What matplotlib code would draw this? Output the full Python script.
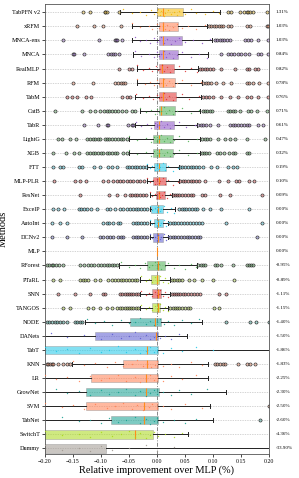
import matplotlib
matplotlib.use("Agg")
import matplotlib.pyplot as plt
from matplotlib.colors import to_rgba

plt.rcParams['font.family'] = ['Liberation Serif', 'DejaVu Serif']

methods = ["TabPFN v2", "xRFM", "MNCA-ens", "MNCA", "RealMLP", "RFM", "TabM", "CatB",
           "TabR", "LightG", "XGB", "FTT", "MLP-PLR", "ResNet", "ExcelP", "AutoInt",
           "DCNv2", "MLP", "RForest", "PTaRL", "SNN", "TANGOS", "NODE", "DANets",
           "TabT", "KNN", "LR", "GrowNet", "SVM", "TabNet", "SwitchT", "Dummy"]

mean_labels = ["1.31%", "1.03%", "1.03%", "0.84%", "0.82%", "0.78%", "0.76%", "0.71%",
               "0.61%", "0.47%", "0.32%", "0.19%", "0.10%", "0.09%", "0.00%", "0.00%",
               "0.00%", "0.00%", "-0.95%", "-0.89%", "-1.11%", "-1.15%", "-1.40%", "-1.50%",
               "-1.86%", "-1.83%", "-2.25%", "-2.30%", "-2.50%", "-2.60%", "-4.36%", "-33.90%"]

q1 = [0.000, 0.003, 0.003, 0.003, 0.003, 0.003, 0.003, 0.003,
      -0.005, -0.007, -0.007, -0.005, -0.007, -0.002, -0.010, -0.005,
      -0.007, 0.000, -0.018, -0.010, -0.009, -0.009, -0.048, -0.111,
      -0.300, -0.060, -0.117, -0.126, -0.126, -0.082, -0.300, -0.400]
med = [0.010, 0.010, 0.010, 0.010, 0.009, 0.011, 0.011, 0.008,
       0.004, 0.004, 0.004, 0.004, 0.004, 0.004, 0.001, 0.002,
       0.002, 0.000, 0.001, 0.000, 0.001, 0.001, -0.004, -0.002,
       -0.018, -0.018, -0.020, -0.020, -0.023, -0.024, -0.040, -0.300]
q3 = [0.047, 0.038, 0.044, 0.038, 0.031, 0.032, 0.034, 0.032,
      0.030, 0.029, 0.029, 0.016, 0.017, 0.014, 0.010, 0.010,
      0.010, 0.000, 0.014, 0.004, 0.008, 0.005, 0.008, 0.002,
      0.002, 0.002, 0.002, 0.004, 0.002, 0.002, -0.007, -0.091]
whislo = [-0.066, -0.045, -0.045, -0.042, -0.035, -0.035, -0.039, -0.030,
          -0.039, -0.050, -0.050, -0.018, -0.018, -0.013, -0.012, -0.012,
          -0.012, 0.000, -0.068, -0.030, -0.030, -0.030, -0.129, -0.300,
          -0.500, -0.152, -0.400, -0.400, -0.400, -0.400, -0.500, -0.600]
whishi = [0.112, 0.090, 0.098, 0.092, 0.074, 0.080, 0.078, 0.077,
          0.071, 0.076, 0.076, 0.040, 0.040, 0.026, 0.032, 0.020,
          0.020, 0.000, 0.071, 0.023, 0.023, 0.020, 0.080, 0.054,
          0.300, 0.092, 0.092, 0.123, 0.095, 0.100, 0.055, 0.300]

fliers = [
    [-0.133, -0.12, -0.093, -0.092, -0.09, -0.068, 0.126, 0.133, 0.148, 0.156, 0.160, 0.163, 0.166, 0.171, 0.196],
    [-0.143, -0.112, -0.096, -0.064, 0.093, 0.097, 0.101, 0.105, 0.11, 0.114, 0.118, 0.127, 0.132, 0.16, 0.166, 0.196, 0.199],
    [-0.168, -0.104, -0.075, -0.073, -0.071, -0.062, 0.104, 0.108, 0.112, 0.116, 0.12, 0.125, 0.13, 0.157, 0.162, 0.168, 0.18, 0.199],
    [-0.15, -0.148, -0.13, -0.088, -0.082, -0.078, -0.075, -0.067, 0.115, 0.127, 0.132, 0.138, 0.145, 0.15, 0.157, 0.165, 0.18, 0.185, 0.198],
    [-0.068, -0.05, -0.044, 0.077, 0.08, 0.085, 0.09, 0.095, 0.1, 0.114, 0.14, 0.16, 0.165, 0.175, 0.18],
    [-0.15, -0.114, -0.075, -0.07, -0.065, -0.06, -0.057, 0.083, 0.088, 0.092, 0.097, 0.105, 0.118, 0.132, 0.16, 0.165, 0.172, 0.183, 0.198],
    [-0.161, -0.152, -0.142, -0.126, -0.117, -0.063, -0.054, -0.048, 0.082, 0.088, 0.093, 0.1, 0.115, 0.13, 0.145, 0.16, 0.168, 0.18, 0.198],
    [-0.182, -0.134, -0.12, -0.11, -0.102, -0.095, -0.09, -0.085, -0.08, -0.075, -0.07, -0.063, -0.055, -0.045, -0.04,
     0.082, 0.086, 0.09, 0.095, 0.098, 0.126, 0.13, 0.135, 0.14, 0.148, 0.162, 0.168, 0.178, 0.196],
    [-0.131, -0.105, -0.09, -0.088, -0.052, -0.045, -0.043, 0.074, 0.078, 0.082, 0.088, 0.094, 0.109,
     0.13, 0.135, 0.14, 0.145, 0.15, 0.155, 0.16, 0.165, 0.18, 0.19],
    [-0.176, -0.17, -0.155, -0.145, -0.125, -0.12, -0.115, -0.11, -0.105, -0.102, -0.093, -0.09, -0.085,
     -0.08, -0.075, -0.07, -0.065, -0.06, -0.054, 0.08, 0.085, 0.09, 0.095, 0.109, 0.121, 0.13, 0.139, 0.16, 0.193],
    [-0.186, -0.162, -0.148, -0.139, -0.125, -0.12, -0.115, -0.11, -0.105, -0.1, -0.097, -0.09, -0.085, -0.08,
     -0.075, -0.072, -0.06, -0.054, 0.08, 0.084, 0.088, 0.093, 0.107, 0.113, 0.12, 0.128, 0.135, 0.139, 0.16, 0.165],
    [-0.185, -0.173, -0.168, -0.139, -0.134, -0.112, -0.102, -0.087, -0.081, -0.072, -0.054, -0.05, -0.045, -0.04,
     -0.035, -0.03, -0.025, -0.02, 0.042, 0.045, 0.05, 0.055, 0.06, 0.065, 0.07, 0.075, 0.083, 0.096, 0.107, 0.127, 0.135, 0.143],
    [-0.184, -0.146, -0.137, -0.126, -0.096, -0.087, -0.078, -0.072, -0.066, -0.06, -0.054, -0.048, -0.042, -0.036,
     -0.03, -0.024, 0.042, 0.046, 0.05, 0.055, 0.06, 0.065, 0.07, 0.075, 0.085, 0.111, 0.126, 0.142, 0.147, 0.165, 0.173],
    [-0.137, -0.085, -0.072, -0.058, -0.048, -0.044, -0.04, -0.035, -0.03, -0.025, -0.02, 0.029, 0.032, 0.036,
     0.04, 0.045, 0.05, 0.055, 0.06, 0.064, 0.08, 0.086, 0.112, 0.13, 0.187],
    [-0.185, -0.176, -0.166, -0.14, -0.135, -0.13, -0.125, -0.117, -0.108, -0.09, -0.084, -0.075, -0.066, -0.06,
     -0.054, -0.048, -0.043, -0.038, -0.033, -0.028, -0.023, -0.018, 0.04, 0.044, 0.048, 0.052, 0.058, 0.063,
     0.068, 0.071, 0.083, 0.095, 0.114, 0.164],
    [-0.188, -0.173, -0.161, -0.097, -0.09, -0.085, -0.078, -0.07, -0.066, -0.043, -0.038, -0.033, -0.028, -0.023,
     -0.018, 0.023, 0.028, 0.033, 0.038, 0.043, 0.048, 0.053, 0.059, 0.065, 0.07, 0.075, 0.08, 0.124, 0.187],
    [-0.188, -0.161, -0.134, -0.102, -0.097, -0.09, -0.084, -0.078, -0.07, -0.065, -0.06, -0.043, -0.038, -0.033,
     -0.028, -0.023, -0.018, 0.023, 0.028, 0.033, 0.038, 0.043, 0.048, 0.053, 0.058, 0.063, 0.068, 0.073, 0.077, 0.178],
    [],
    [-0.197, -0.193, -0.188, -0.185, -0.18, -0.175, -0.167, -0.137, -0.13, -0.124, -0.118, -0.112, -0.105, -0.1,
     -0.095, -0.09, -0.085, -0.08, -0.076, -0.072, 0.074, 0.078, 0.082, 0.086, 0.104, 0.108, 0.115, 0.135, 0.16, 0.164, 0.168, 0.172],
    [-0.185, -0.173, -0.137, -0.133, -0.128, -0.123, -0.11, -0.102, -0.087, -0.081, -0.075, -0.07, -0.065, -0.06,
     -0.055, -0.05, -0.045, -0.04, -0.035, 0.026, 0.03, 0.035, 0.04, 0.044, 0.058, 0.067, 0.08, 0.1, 0.138],
    [-0.176, -0.146, -0.12, -0.096, -0.093, -0.066, -0.062, -0.058, -0.054, -0.05, -0.046, -0.042, -0.038, -0.034,
     0.026, 0.03, 0.034, 0.038, 0.042, 0.046, 0.05, 0.055, 0.06, 0.067, 0.072, 0.077, 0.11, 0.123],
    [-0.167, -0.155, -0.123, -0.114, -0.102, -0.09, -0.081, -0.072, -0.066, -0.062, -0.058, -0.054, -0.05, -0.046,
     -0.042, -0.038, -0.034, 0.024, 0.028, 0.032, 0.036, 0.04, 0.045, 0.05, 0.055, 0.059, 0.102, 0.11],
    [-0.197, -0.193, -0.188, -0.183, -0.178, -0.173, -0.167, -0.161, -0.146, -0.142, -0.137, -0.134, 0.123, 0.166, 0.177, 0.2],
    [],
    [],
    [-0.197, -0.194, -0.191, -0.188, -0.185, -0.176, -0.167, -0.161, -0.155, 0.104, 0.108, 0.112, 0.118, 0.121, 0.145, 0.16, 0.166, 0.175],
    [],
    [],
    [0.2],
    [0.184],
    [],
    [],
]

strip = [
    [-0.06, -0.045, -0.03, -0.02, -0.01, -0.005, 0.0, 0.002, 0.005, 0.008, 0.012, 0.015, 0.02, 0.025, 0.03, 0.035, 0.04, 0.05, 0.06, 0.07, 0.085, 0.1, 0.11],
    [-0.045, -0.03, -0.015, -0.008, 0.0, 0.003, 0.006, 0.01, 0.014, 0.018, 0.022, 0.028, 0.035, 0.045, 0.055, 0.07, 0.085],
    [-0.04, -0.03, -0.02, -0.012, -0.005, 0.0, 0.004, 0.008, 0.012, 0.018, 0.025, 0.032, 0.04, 0.05, 0.065, 0.08, 0.095],
    [-0.04, -0.028, -0.015, -0.006, 0.0, 0.004, 0.008, 0.012, 0.016, 0.022, 0.028, 0.035, 0.045, 0.06, 0.075, 0.09],
    [-0.035, -0.025, -0.015, -0.008, -0.002, 0.002, 0.005, 0.009, 0.013, 0.018, 0.024, 0.03, 0.04, 0.05, 0.06, 0.072],
    [-0.035, -0.022, -0.012, -0.005, 0.0, 0.004, 0.008, 0.012, 0.017, 0.022, 0.028, 0.035, 0.045, 0.06, 0.078],
    [-0.038, -0.025, -0.015, -0.007, 0.0, 0.004, 0.008, 0.012, 0.016, 0.022, 0.028, 0.034, 0.045, 0.058, 0.075],
    [-0.03, -0.02, -0.01, -0.004, 0.0, 0.004, 0.008, 0.012, 0.016, 0.022, 0.028, 0.035, 0.045, 0.06, 0.075],
    [-0.038, -0.028, -0.018, -0.01, -0.004, 0.0, 0.004, 0.008, 0.013, 0.018, 0.024, 0.03, 0.04, 0.052, 0.068],
    [-0.05, -0.035, -0.02, -0.01, -0.005, 0.0, 0.004, 0.008, 0.013, 0.018, 0.024, 0.03, 0.04, 0.055, 0.072],
    [-0.05, -0.035, -0.02, -0.01, -0.005, 0.0, 0.004, 0.008, 0.013, 0.018, 0.024, 0.03, 0.04, 0.055, 0.072],
    [-0.018, -0.012, -0.008, -0.004, 0.0, 0.003, 0.006, 0.01, 0.014, 0.02, 0.028, 0.038],
    [-0.018, -0.012, -0.007, -0.003, 0.0, 0.003, 0.006, 0.01, 0.014, 0.02, 0.028, 0.038],
    [-0.013, -0.008, -0.004, 0.0, 0.003, 0.006, 0.009, 0.013, 0.018, 0.024],
    [-0.012, -0.008, -0.004, 0.0, 0.002, 0.005, 0.008, 0.012, 0.018, 0.025, 0.03],
    [-0.012, -0.008, -0.004, 0.0, 0.002, 0.005, 0.008, 0.012, 0.016, 0.02],
    [-0.012, -0.008, -0.004, 0.0, 0.002, 0.005, 0.008, 0.012, 0.016, 0.02],
    [],
    [-0.065, -0.05, -0.04, -0.03, -0.022, -0.015, -0.008, -0.003, 0.0, 0.004, 0.008, 0.014, 0.02, 0.03, 0.04, 0.05, 0.06, 0.07],
    [-0.028, -0.02, -0.014, -0.008, -0.004, 0.0, 0.003, 0.006, 0.01, 0.015, 0.02],
    [-0.028, -0.02, -0.014, -0.008, -0.004, 0.0, 0.003, 0.006, 0.01, 0.015, 0.02],
    [-0.028, -0.02, -0.014, -0.008, -0.004, 0.0, 0.003, 0.006, 0.01, 0.015, 0.02],
    [-0.125, -0.11, -0.095, -0.08, -0.065, -0.05, -0.04, -0.03, -0.02, -0.012, -0.006, 0.0, 0.005, 0.012, 0.02, 0.03, 0.045, 0.06, 0.075],
    [-0.19, -0.16, -0.13, -0.1, -0.08, -0.065, -0.05, -0.04, -0.03, -0.02, -0.012, -0.006, 0.0, 0.006, 0.015, 0.025, 0.04],
    [-0.2, -0.18, -0.16, -0.14, -0.12, -0.1, -0.085, -0.07, -0.055, -0.04, -0.03, -0.02, -0.012, -0.005, 0.0, 0.01, 0.025, 0.045, 0.07, 0.1],
    [-0.15, -0.13, -0.11, -0.09, -0.075, -0.06, -0.045, -0.035, -0.025, -0.018, -0.01, -0.004, 0.0, 0.01, 0.025, 0.04, 0.06, 0.08],
    [-0.2, -0.18, -0.16, -0.14, -0.12, -0.1, -0.085, -0.07, -0.055, -0.04, -0.03, -0.02, -0.012, -0.005, 0.0, 0.01, 0.025, 0.045, 0.07],
    [-0.18, -0.16, -0.14, -0.12, -0.1, -0.085, -0.07, -0.055, -0.04, -0.03, -0.02, -0.012, -0.005, 0.0, 0.01, 0.025, 0.04, 0.06, 0.09],
    [-0.2, -0.17, -0.15, -0.13, -0.11, -0.09, -0.075, -0.06, -0.045, -0.035, -0.025, -0.015, -0.008, 0.0, 0.01, 0.025, 0.05, 0.08],
    [-0.17, -0.14, -0.12, -0.1, -0.085, -0.07, -0.055, -0.04, -0.03, -0.02, -0.012, -0.005, 0.0, 0.01, 0.03, 0.05, 0.07],
    [-0.2, -0.17, -0.14, -0.12, -0.1, -0.08, -0.065, -0.05, -0.04, -0.03, -0.02, -0.012, -0.005, 0.002, 0.015, 0.03, 0.045],
    [-0.2, -0.17, -0.14, -0.12, -0.1, -0.08, -0.05, -0.02, 0.0, 0.03],
]

colors = ["#f5b800", "#ff7f50", "#8a4fc6", "#8a4fc6", "#e03030", "#ff7f50", "#e03030", "#4caf50",
          "#8a4fc6", "#4caf50", "#4caf50", "#1ec8e8", "#e03030", "#e03030", "#1ec8e8", "#1ec8e8",
          "#5a5ad0", "#ff7f0e", "#4caf50", "#a8d818", "#e03030", "#a8d818", "#13a090", "#5a5ad0",
          "#1ec8e8", "#ff7f50", "#ff7f50", "#13a090", "#ff7f50", "#13a090", "#a8d818", "#a09890"]

jitter = [-0.22, 0.08, -0.05, 0.2, -0.15, 0.12, 0.0, -0.25, 0.18, -0.08, 0.25, 0.05,
          -0.18, 0.15, -0.02, 0.22, -0.12, 0.1, -0.2, 0.02, 0.16, -0.1, 0.07, -0.24, 0.24]

fig = plt.figure(figsize=(2.99, 4.78), dpi=100)
ax = fig.add_axes([0.1505, 0.0502, 0.749, 0.9404])

n = len(methods)
pos = list(range(n))

for i in pos:
    ax.axhline(i, color="#c4c4c4", lw=0.5, ls=(0, (2, 1.5)), zorder=0)

stats = []
for i in pos:
    stats.append(dict(q1=q1[i], med=med[i], q3=q3[i], whislo=whislo[i],
                      whishi=whishi[i], fliers=fliers[i]))

bp = ax.bxp(stats, positions=pos, orientation='horizontal', widths=0.6,
            patch_artist=True, showfliers=True,
            boxprops=dict(edgecolor="#999999", lw=0.6),
            medianprops=dict(color="#ff8c1a", lw=0.8),
            whiskerprops=dict(color="#222222", lw=0.7),
            capprops=dict(color="#222222", lw=0.7),
            flierprops=dict(marker='o', markersize=2.2, markeredgecolor="#333333",
                            markeredgewidth=0.5))
for i, patch in enumerate(bp['boxes']):
    patch.set_facecolor(colors[i])
    patch.set_alpha(0.55)
    patch.set_zorder(2)
for i, fl in enumerate(bp['fliers']):
    fl.set_markerfacecolor(to_rgba(colors[i], 0.35))

for i in pos:
    xs = strip[i]
    ys = [i + jitter[j % len(jitter)] for j in range(len(xs))]
    ax.scatter(xs, ys, s=1.0, color=colors[i], alpha=0.85, lw=0, zorder=3)

ax.axvline(0, color="#888888", lw=0.7, ls=(0, (4, 1.5, 1, 1.5)), zorder=1)

ax.set_xlim(-0.2, 0.2)
ax.set_ylim(n - 0.6, -0.55)
ax.set_yticks(pos)
ax.set_yticklabels(methods, fontsize=4.4)
ax.set_xticks([-0.2, -0.15, -0.1, -0.05, 0.0, 0.05, 0.1, 0.15, 0.2])
ax.set_xticklabels(["−0.20", "−0.15", "−0.10", "−0.05", "0.00", "0.05", "0.10", "0.15", "0.20"], fontsize=4.2)
ax.tick_params(axis='both', length=2, width=0.5, pad=1.5)
for s in ax.spines.values():
    s.set_color("#555555")
    s.set_linewidth(0.6)

for i in pos:
    ax.text(1.03, i, mean_labels[i], transform=ax.get_yaxis_transform(),
            fontsize=3.6, va='center', ha='left')

ax.set_xlabel("Relative improvement over MLP (%)", fontsize=7.5, labelpad=1)
ax.set_ylabel("Methods", fontsize=7.5)
ax.yaxis.set_label_coords(-0.165, 0.5)

fig.savefig("out.png", dpi=100)
